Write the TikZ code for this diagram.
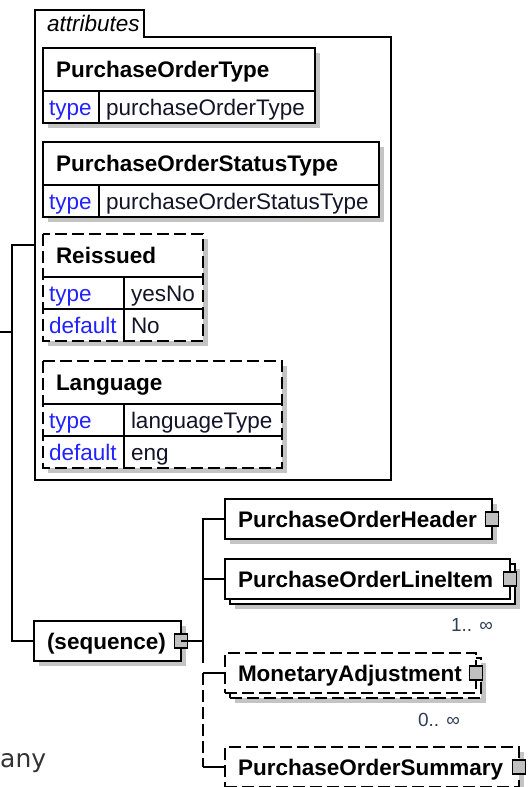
\documentclass[tikz,border=0pt]{standalone}
\usepackage{fontspec}
\setmainfont{Liberation Sans}
\newfontfamily\pagefont{DejaVu Sans}
\usepackage{xcolor}
\usetikzlibrary{shadows}
\definecolor{keyblue}{HTML}{2222FF}
\definecolor{valink}{HTML}{141428}
\definecolor{multink}{HTML}{2E3E58}
\definecolor{shadowgray}{HTML}{C4C4C4}
\definecolor{plusgray}{HTML}{C0C0C0}
\definecolor{pageink}{HTML}{333333}
\newcommand{\dsize}{\fontsize{22.5}{26}\selectfont}
\newcommand{\bsize}{\fontsize{22.5}{26}\selectfont}
\tikzset{
  wire/.style      = {draw=black, line width=1.6pt},
  optwire/.style   = {wire, dash pattern=on 12pt off 5pt},
  tabframe/.style  = {draw=black, line width=1.6pt},
  opttab/.style    = {tabframe, dash pattern=on 12pt off 5pt},
  tabline/.style   = {draw=black, line width=1.6pt},
  castshadow/.style = {drop shadow={shadow xshift=5pt, shadow yshift=-5pt, fill=shadowgray, opacity=1}},
  cell/.style      = {anchor=north west, fill=white, inner ysep=0pt, outer sep=0pt, align=left,
                      text height=18pt, text depth=2pt},
  titlecell/.style = {cell, castshadow, minimum height=43pt, inner xsep=13pt, font=\bsize\bfseries},
  keycell/.style   = {cell, castshadow, minimum height=32pt, inner xsep=6pt, font=\dsize, text=keyblue},
  valcell/.style   = {cell, castshadow, minimum height=32pt, inner xsep=7pt, font=\dsize, text=valink},
  elembox/.style   = {cell, draw=black, line width=1.6pt, minimum height=40pt, inner xsep=13pt,
                      font=\bsize\bfseries},
  optbox/.style    = {elembox, dash pattern=on 12pt off 5pt},
  plus/.style      = {draw=black, fill=plusgray, line width=1.2pt, minimum width=13pt,
                      minimum height=14pt, inner sep=0pt, outer sep=0pt},
  mult/.style      = {font=\fontsize{19}{21}\selectfont, text=multink, inner sep=0pt, anchor=east},
}
% attribute tables
\newcommand{\attrtitle}[5]{\pgfmathsetmacro\tw{#4-26}
  \node[titlecell, text width=\tw pt] (#1) at (#2,#3) {#5};}
\newcommand{\attrrow}[6]{\pgfmathsetmacro\kw{#3-12}\pgfmathsetmacro\vw{#4-#3-14}
  \node[keycell, text width=\kw pt] (#1-k) at (#2.south west) {#5};
  \node[valcell, text width=\vw pt] (#1-v) at (#1-k.north east) {#6};}
\newcommand{\grid}[4]{
  \draw[#1] (#2.north west) rectangle (#4-v.south east);
  \draw[tabline] (#2.south west) -- (#2.south east);
  \draw[tabline] (#4-k.north west) -- (#4-v.north east);
  \draw[tabline] (#3-k.north east) -- (#4-k.south east);}
% elements
\newcommand{\elem}[6]{\pgfmathsetmacro\tw{#5-26}
  \node[#1, castshadow, text width=\tw pt] (#2) at (#3,#4) {#6};
  \node[plus] (#2-p) at (#2.east) {};}
\newcommand{\stackelem}[6]{\pgfmathsetmacro\tw{#5-26}
  \node[#1, castshadow, text width=\tw pt] (#2-b) at (#3+5,#4+5) {};
  \node[#1, text width=\tw pt] (#2) at (#3,#4) {#6};
  \node[plus] (#2-p) at (#2.east) {};}

\begin{document}
\begin{tikzpicture}[x=1pt,y=-1pt]
\useasboundingbox (0,0) rectangle (528,787);

% ------------------------------------------------------------------ attributes
\node[anchor=north west, minimum width=356pt, minimum height=443pt, inner sep=0pt, outer sep=0pt] (attrs) at (35,37) {};
\node[anchor=south west, text width=85pt, minimum height=27pt, inner xsep=12pt, inner ysep=0pt, outer sep=0pt,
      align=left, text height=18pt, text depth=2pt, font=\dsize\itshape] (atab) at (attrs.north west) {attributes};
\draw[tabframe] (attrs.south west) -- (atab.north west) -- (atab.north east) -- (atab.south east)
  -- (attrs.north east) -- (attrs.south east) -- cycle;

\attrtitle{pot}{43}{48}{272}{PurchaseOrderType}
\attrrow{pot-t}{pot}{56}{272}{type}{purchaseOrderType}
\grid{tabframe}{pot}{pot-t}{pot-t}

\attrtitle{post}{43}{142}{336}{PurchaseOrderStatusType}
\attrrow{post-t}{post}{56}{336}{type}{purchaseOrderStatusType}
\grid{tabframe}{post}{post-t}{post-t}

\attrtitle{reis}{43}{234}{160}{Reissued}
\attrrow{reis-t}{reis}{81}{160}{type}{yesNo}
\attrrow{reis-d}{reis-t-k}{81}{160}{default}{No}
\grid{opttab}{reis}{reis-t}{reis-d}

\attrtitle{lang}{43}{361}{239}{Language}
\attrrow{lang-t}{lang}{81}{239}{type}{languageType}
\attrrow{lang-d}{lang-t-k}{81}{239}{default}{eng}
\grid{opttab}{lang}{lang-t}{lang-d}

% ------------------------------------------------------------------ content model
\elem{elembox}{seq}{34}{621}{147}{(sequence)}
\elem{elembox}{poh}{225}{499}{267}{PurchaseOrderHeader}
\stackelem{elembox}{poli}{225}{559}{285}{PurchaseOrderLineItem}
\stackelem{optbox}{ma}{225}{653}{251}{MonetaryAdjustment}
\elem{optbox}{pos}{225}{747}{294}{PurchaseOrderSummary}

\node[mult] (poli-m) at (493,625) {1.. ∞};
\node[mult] (ma-m) at (460,720) {0.. ∞};

% ------------------------------------------------------------------ connectors
\coordinate (root) at (0,332);
\coordinate (trunk) at (12,332);
\coordinate (fork) at ([xshift=22pt]seq-p.center);
\draw[wire] (root) -- (trunk);
\draw[wire] ([yshift=13.5pt]attrs.west) -| (trunk) |- (seq.west);
\draw[wire] (seq-p.center) -- (fork);
\draw[wire] (fork) -- ++(0,22);
\foreach \e in {poh,poli}{\draw[wire] (fork) |- (\e.west);}
\draw[optwire] (fork |- ma.west) -- (fork |- pos.west);
\foreach \e in {ma,pos}{\draw[wire] (fork |- \e.west) -- (\e.west);}

\node[font=\pagefont\fontsize{25}{30}\selectfont, text=pageink, anchor=base west, inner sep=0pt] (pg) at (0,767) {any};

\end{tikzpicture}
\end{document}
